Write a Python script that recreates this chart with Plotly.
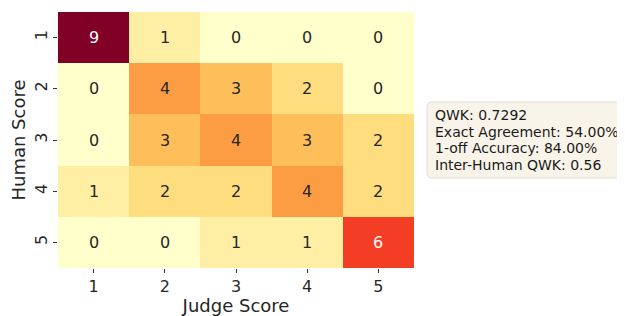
import plotly.graph_objects as go

judge_labels = ["1", "2", "3", "4", "5"]
human_labels = ["1", "2", "3", "4", "5"]
counts = [
    [9, 1, 0, 0, 0],
    [0, 4, 3, 2, 0],
    [0, 3, 4, 3, 2],
    [1, 2, 2, 4, 2],
    [0, 0, 1, 1, 6],
]
metrics_lines = [
    "QWK: 0.7292",
    "Exact Agreement: 54.00%",
    "1-off Accuracy: 84.00%",
    "Inter-Human QWK: 0.56",
]

ylorrd = ["#ffffcc", "#ffeda0", "#fed976", "#feb24c", "#fd8d3c",
          "#fc4e2a", "#e31a1c", "#bd0026", "#800026"]
colorscale = [[i / 8, c] for i, c in enumerate(ylorrd)]

OFF = 8  # page body margin offset
W, H = 625 - OFF, 316 - OFF
L, R, T, B = 58 - OFF, 414 - OFF, 12 - OFF, 268 - OFF

xs = list(range(1, len(judge_labels) + 1))
ys = list(range(1, len(human_labels) + 1))

fig = go.Figure(go.Heatmap(
    z=counts, x=xs, y=ys,
    colorscale=colorscale, zmin=0, zmax=9, showscale=False,
    xgap=0, ygap=0, hoverinfo="skip",
))

font = "DejaVu Sans"
annotations = []
for i, row in enumerate(counts):
    for j, v in enumerate(row):
        annotations.append(dict(
            x=xs[j], y=ys[i], text=str(v), showarrow=False,
            font=dict(family=font, size=16, color="white" if v >= 6 else "#262626"),
        ))

def px_x(p):
    return (p - OFF - L) / (R - L)

def px_y(p):
    return (B - (p - OFF)) / (B - T)

bx0, bx1, by0, by1 = 427, 624, 102, 178
r = 5
rx = r / (R - L)
ry = r / (B - T)
x0, x1, y0, y1 = px_x(bx0), px_x(bx1), px_y(by1), px_y(by0)
path = (f"M {x0+rx},{y0} L {x1-rx},{y0} Q {x1},{y0} {x1},{y0+ry} "
        f"L {x1},{y1-ry} Q {x1},{y1} {x1-rx},{y1} L {x0+rx},{y1} "
        f"Q {x0},{y1} {x0},{y1-ry} L {x0},{y0+ry} Q {x0},{y0} {x0+rx},{y0} Z")

line_y = [115, 131.5, 148, 164.5]
for ly, txt in zip(line_y, metrics_lines):
    annotations.append(dict(
        xref="paper", yref="paper", x=px_x(433), y=px_y(ly), xanchor="left", yanchor="middle",
        text=txt, showarrow=False, align="left",
        font=dict(family=font, size=14, color="#1a1a1a"),
    ))

fig.update_layout(
    width=W, height=H,
    margin=dict(l=L, r=W - R, t=T, b=H - B, pad=0),
    paper_bgcolor="white", plot_bgcolor="white",
    font=dict(family=font, size=16, color="#262626"),
    annotations=annotations,
    shapes=[dict(type="path", path=path, xref="paper", yref="paper",
                 fillcolor="rgba(245,236,218,0.6)", line=dict(color="#e3dccf", width=1),
                 layer="below")],
    xaxis=dict(title=dict(text="Judge Score", font=dict(size=18), standoff=0),
               range=[0.5, 5.5], tickvals=xs, ticktext=judge_labels,
               ticks="outside", ticklen=4, tickcolor="#333", showgrid=False,
               zeroline=False, showline=False, tickfont=dict(size=16)),
    yaxis=dict(title=dict(text="Human Score", font=dict(size=18), standoff=4),
               range=[5.5, 0.5], tickvals=ys, ticktext=human_labels,
               ticks="outside", ticklen=4, tickcolor="#333",
               tickangle=-90, showgrid=False, zeroline=False, showline=False,
               tickfont=dict(size=16)),
)

fig.write_html("out.html")
